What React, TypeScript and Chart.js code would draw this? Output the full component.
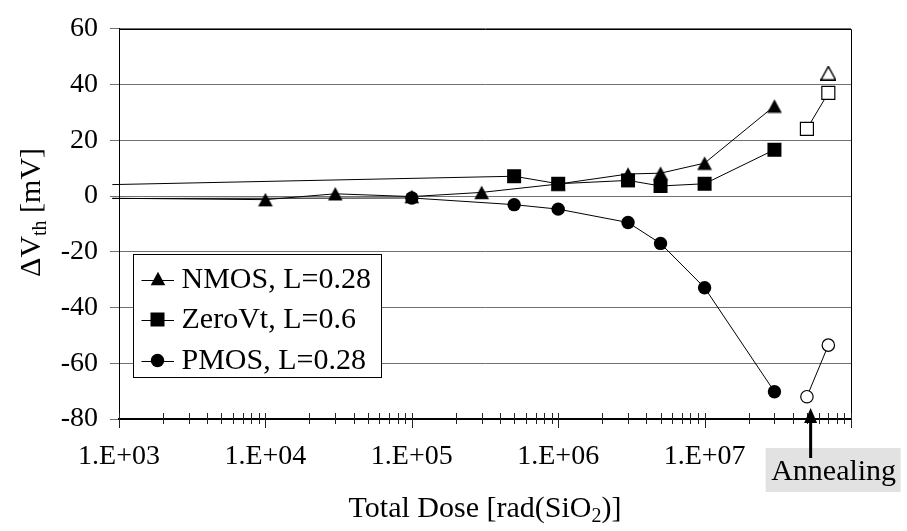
import React, { useEffect, useRef } from "react";
import { Chart, registerables } from "chart.js";

Chart.register(...registerables);

const FONT = '"Liberation Serif", "Times New Roman", serif';

// ---- Data (dose in rad(SiO2), ΔVth in mV) ----
const NMOS_DOSE = [900, 1e4, 3e4, 1e5, 3e5, 1e6, 3e6, 5e6, 1e7, 3e7];
const NMOS_DVTH = [-0.8, -1.3, 0.8, -0.2, 1.3, 4.3, 7.9, 8.2, 11.8, 32.3];
const ZERO_DOSE = [900, 5e5, 1e6, 3e6, 5e6, 1e7, 3e7];
const ZERO_DVTH = [4.1, 7.1, 4.4, 5.6, 3.6, 4.4, 16.6];
const PMOS_DOSE = [900, 1e5, 5e5, 1e6, 3e6, 5e6, 1e7, 3e7];
const PMOS_DVTH = [-0.9, -0.7, -3.1, -4.7, -9.5, -17.0, -32.9, -70.2];

// annealing (open markers)
const NMOS_ANNEAL_DOSE = [7e7];
const NMOS_ANNEAL_DVTH = [44.1];
const ZERO_ANNEAL_DOSE = [5e7, 7e7];
const ZERO_ANNEAL_DVTH = [24.1, 37.0];
const PMOS_ANNEAL_DOSE = [5e7, 7e7];
const PMOS_ANNEAL_DVTH = [-72.0, -53.5];

const X_TICKS = [1e3, 1e4, 1e5, 1e6, 1e7, 1e8];
const X_TICK_LABELS = ["1.E+03", "1.E+04", "1.E+05", "1.E+06", "1.E+07", ""];
const Y_MIN = -80;
const Y_MAX = 60;
const Y_STEP = 20;

const LEGEND_LABELS = ["NMOS, L=0.28", "ZeroVt, L=0.6", "PMOS, L=0.28"];
const X_TITLE = ["Total Dose [rad(SiO", "2", ")]"];
const Y_TITLE = ["\u0394V", "th", " [mV]"];
const ANNOTATION_TEXT = "Annealing";
const ANNOTATION_DOSE = 5.3e7;

const pts = (xs: number[], ys: number[]) => xs.map((x, i) => ({ x, y: ys[i] }));

function makeTriangle(filled: boolean): HTMLCanvasElement {
  const c = document.createElement("canvas");
  c.width = 16;
  c.height = 15;
  const g = c.getContext("2d")!;
  g.beginPath();
  g.moveTo(8, 0.8);
  g.lineTo(15.3, 14.2);
  g.lineTo(0.7, 14.2);
  g.closePath();
  if (filled) {
    g.fillStyle = "#000";
    g.fill();
  } else {
    g.fillStyle = "#fff";
    g.fill();
    g.lineWidth = 1.4;
    g.strokeStyle = "#000";
    g.stroke();
  }
  return c;
}

export default function App() {
  const ref = useRef<HTMLCanvasElement | null>(null);

  useEffect(() => {
    if (!ref.current) return;
    const triFilled = makeTriangle(true);
    const triOpen = makeTriangle(false);
    const CIRCLE_R = 6.7;
    const RECT_R = 9.9;

    const hideFirst = (r: number) => (c: any) => (c.dataIndex === 0 ? 0 : r);

    const decor = {
      id: "decor",
      afterDraw(chart: any) {
        const { ctx, chartArea: a, scales } = chart;
        const xs = scales.x;
        ctx.save();
        // frame top/right
        ctx.strokeStyle = "#000";
        ctx.lineWidth = 1;
        const top = Math.round(a.top) + 0.5;
        const right = Math.round(a.right) + 0.5;
        ctx.beginPath();
        ctx.moveTo(a.left, top);
        ctx.lineTo(right, top);
        ctx.lineTo(right, a.bottom);
        ctx.stroke();

        // x ticks crossing the axis
        ctx.strokeStyle = "#222";
        ctx.lineWidth = 1;
        for (let d = 1e3; d <= 1e8; d *= 10) {
          for (let m = 1; m <= 9; m++) {
            const v = d * m;
            if (v > 1e8) break;
            const px = Math.round(xs.getPixelForValue(v)) + 0.5;
            const major = m === 1;
            ctx.beginPath();
            ctx.moveTo(px, a.bottom - 6);
            ctx.lineTo(px, a.bottom + (major ? 9 : 5));
            ctx.stroke();
          }
        }

        // legend
        const lx = a.left + 14;
        const ly = 254.5;
        const lw = 248;
        const lh = 123;
        ctx.fillStyle = "#fff";
        ctx.fillRect(lx, ly, lw, lh);
        ctx.strokeStyle = "#000";
        ctx.lineWidth = 1;
        ctx.strokeRect(Math.round(lx) + 0.5, ly, lw, lh);
        const rows = [ly + 25, ly + 65, ly + 106];
        const mx = lx + 24.5;
        ctx.font = `30px ${FONT}`;
        ctx.textBaseline = "middle";
        ctx.textAlign = "left";
        rows.forEach((ry, i) => {
          ctx.strokeStyle = "#000";
          ctx.lineWidth = 1;
          ctx.beginPath();
          ctx.moveTo(lx + 8.5, Math.round(ry) + 0.5);
          ctx.lineTo(lx + 41, Math.round(ry) + 0.5);
          ctx.stroke();
          ctx.fillStyle = "#000";
          if (i === 0) {
            ctx.drawImage(triFilled, Math.round(mx - 8), Math.round(ry - 8.5));
          } else if (i === 1) {
            const s = RECT_R * Math.SQRT1_2;
            ctx.fillRect(mx - s, ry - s, 2 * s, 2 * s);
          } else {
            ctx.beginPath();
            ctx.arc(mx, ry, CIRCLE_R, 0, Math.PI * 2);
            ctx.fill();
          }
          ctx.fillText(LEGEND_LABELS[i], lx + 48.5, ry + 1);
        });

        // x title with subscript
        const mainF = `30px ${FONT}`;
        const subF = `20px ${FONT}`;
        ctx.textBaseline = "alphabetic";
        ctx.font = mainF;
        const w0 = ctx.measureText(X_TITLE[0]).width;
        const w2 = ctx.measureText(X_TITLE[2]).width;
        ctx.font = subF;
        const w1 = ctx.measureText(X_TITLE[1]).width;
        let u = (a.left + a.right) / 2 - (w0 + w1 + w2) / 2;
        const by = chart.height - 14;
        ctx.font = mainF;
        ctx.fillText(X_TITLE[0], u, by);
        u += w0;
        ctx.font = subF;
        ctx.fillText(X_TITLE[1], u, by + 5);
        u += w1;
        ctx.font = mainF;
        ctx.fillText(X_TITLE[2], u, by);

        // y title rotated with subscript
        ctx.save();
        ctx.translate(40, (a.top + a.bottom) / 2 - 11.5);
        ctx.rotate(-Math.PI / 2);
        ctx.font = mainF;
        const y0 = ctx.measureText(Y_TITLE[0]).width;
        const y2 = ctx.measureText(Y_TITLE[2]).width;
        ctx.font = subF;
        const y1 = ctx.measureText(Y_TITLE[1]).width;
        let v = -(y0 + y1 + y2) / 2;
        ctx.font = mainF;
        ctx.fillText(Y_TITLE[0], v, 0);
        v += y0;
        ctx.font = subF;
        ctx.fillText(Y_TITLE[1], v, 6);
        v += y1;
        ctx.font = mainF;
        ctx.fillText(Y_TITLE[2], v, 0);
        ctx.restore();

        // annotation box + arrow
        const ax = xs.getPixelForValue(ANNOTATION_DOSE);
        const bx = ax - 45;
        const bTop = a.bottom + 29;
        ctx.fillStyle = "#e2e2e2";
        ctx.fillRect(bx, bTop, 135, 44);
        ctx.fillStyle = "#000";
        ctx.font = mainF;
        ctx.textAlign = "center";
        ctx.textBaseline = "alphabetic";
        ctx.fillText(ANNOTATION_TEXT, bx + 68, bTop + 32);
        const tipY = a.bottom - 11;
        ctx.beginPath();
        ctx.moveTo(ax, tipY);
        ctx.lineTo(ax + 6.5, tipY + 15);
        ctx.lineTo(ax - 6.5, tipY + 15);
        ctx.closePath();
        ctx.fill();
        ctx.fillRect(ax - 1.5, tipY + 14, 3, bTop + 10 - (tipY + 14));
        ctx.restore();
      },
    };

    const chart = new Chart(ref.current, {
      type: "line",
      data: {
        datasets: [
          {
            label: LEGEND_LABELS[2],
            data: pts(PMOS_DOSE, PMOS_DVTH),
            borderColor: "#000",
            borderWidth: 1,
            pointStyle: "circle",
            pointRadius: hideFirst(CIRCLE_R),
            pointBackgroundColor: "#000",
            pointBorderColor: "#000",
            pointBorderWidth: 0,
            clip: false,
          },
          {
            label: LEGEND_LABELS[1],
            data: pts(ZERO_DOSE, ZERO_DVTH),
            borderColor: "#000",
            borderWidth: 1,
            pointStyle: "rect",
            pointRadius: hideFirst(RECT_R),
            pointBackgroundColor: "#000",
            pointBorderColor: "#000",
            pointBorderWidth: 0,
            clip: false,
          },
          {
            label: LEGEND_LABELS[0],
            data: pts(NMOS_DOSE, NMOS_DVTH),
            borderColor: "#000",
            borderWidth: 1,
            pointStyle: triFilled,
            pointRadius: hideFirst(7),
            pointBackgroundColor: "#000",
            pointBorderColor: "#000",
            pointBorderWidth: 0,
            clip: false,
          },
          {
            label: "PMOS annealing",
            data: pts(PMOS_ANNEAL_DOSE, PMOS_ANNEAL_DVTH),
            borderColor: "#000",
            borderWidth: 1,
            pointStyle: "circle",
            pointRadius: 6.2,
            pointBackgroundColor: "#fff",
            pointBorderColor: "#000",
            pointBorderWidth: 1.2,
          },
          {
            label: "ZeroVt annealing",
            data: pts(ZERO_ANNEAL_DOSE, ZERO_ANNEAL_DVTH),
            borderColor: "#000",
            borderWidth: 1,
            pointStyle: "rect",
            pointRadius: 9.2,
            pointBackgroundColor: "#fff",
            pointBorderColor: "#000",
            pointBorderWidth: 1.2,
          },
          {
            label: "NMOS annealing",
            data: pts(NMOS_ANNEAL_DOSE, NMOS_ANNEAL_DVTH),
            borderColor: "#000",
            borderWidth: 1,
            pointStyle: triOpen,
            pointRadius: 7,
            pointBackgroundColor: "#fff",
            pointBorderColor: "#000",
            pointBorderWidth: 1,
          },
        ] as any,
      },
      options: {
        animation: false,
        responsive: false,
        events: [],
        layout: { padding: { top: 16, right: 56, left: 0, bottom: 0 } },
        elements: { line: { tension: 0 } },
        plugins: {
          legend: { display: false },
          tooltip: { enabled: false },
          title: { display: false },
        },
        scales: {
          x: {
            type: "logarithmic",
            position: "bottom",
            min: 1e3,
            max: 1e8,
            afterFit: (s: any) => {
              s.height = 112;
            },
            afterBuildTicks: (s: any) => {
              s.ticks = X_TICKS.map((value) => ({ value }));
            },
            grid: { display: false, drawTicks: false },
            border: { display: true, color: "#000", width: 2 },
            ticks: {
              autoSkip: false,
              maxRotation: 0,
              minRotation: 0,
              padding: 21,
              color: "#000",
              font: { family: FONT, size: 28 },
              callback: (_v: any, i: number) => X_TICK_LABELS[i],
            },
          },
          y: {
            type: "linear",
            min: Y_MIN,
            max: Y_MAX,
            afterFit: (s: any) => {
              s.width = 119;
            },
            grid: {
              color: "#707070",
              lineWidth: 1,
              drawTicks: true,
              tickLength: 9,
            },
            border: { display: true, color: "#000", width: 1 },
            ticks: {
              stepSize: Y_STEP,
              padding: 12,
              color: "#000",
              font: { family: FONT, size: 28 },
              callback: (v: any) => String(v),
            },
          },
        },
      } as any,
      plugins: [decor],
    });
    return () => chart.destroy();
  }, []);

  return (
    <div style={{ position: "absolute", left: 0, top: 0, width: 907, height: 531, background: "#fff" }}>
      <canvas ref={ref} width={907} height={531} style={{ display: "block", width: 907, height: 531 }} />
    </div>
  );
}
